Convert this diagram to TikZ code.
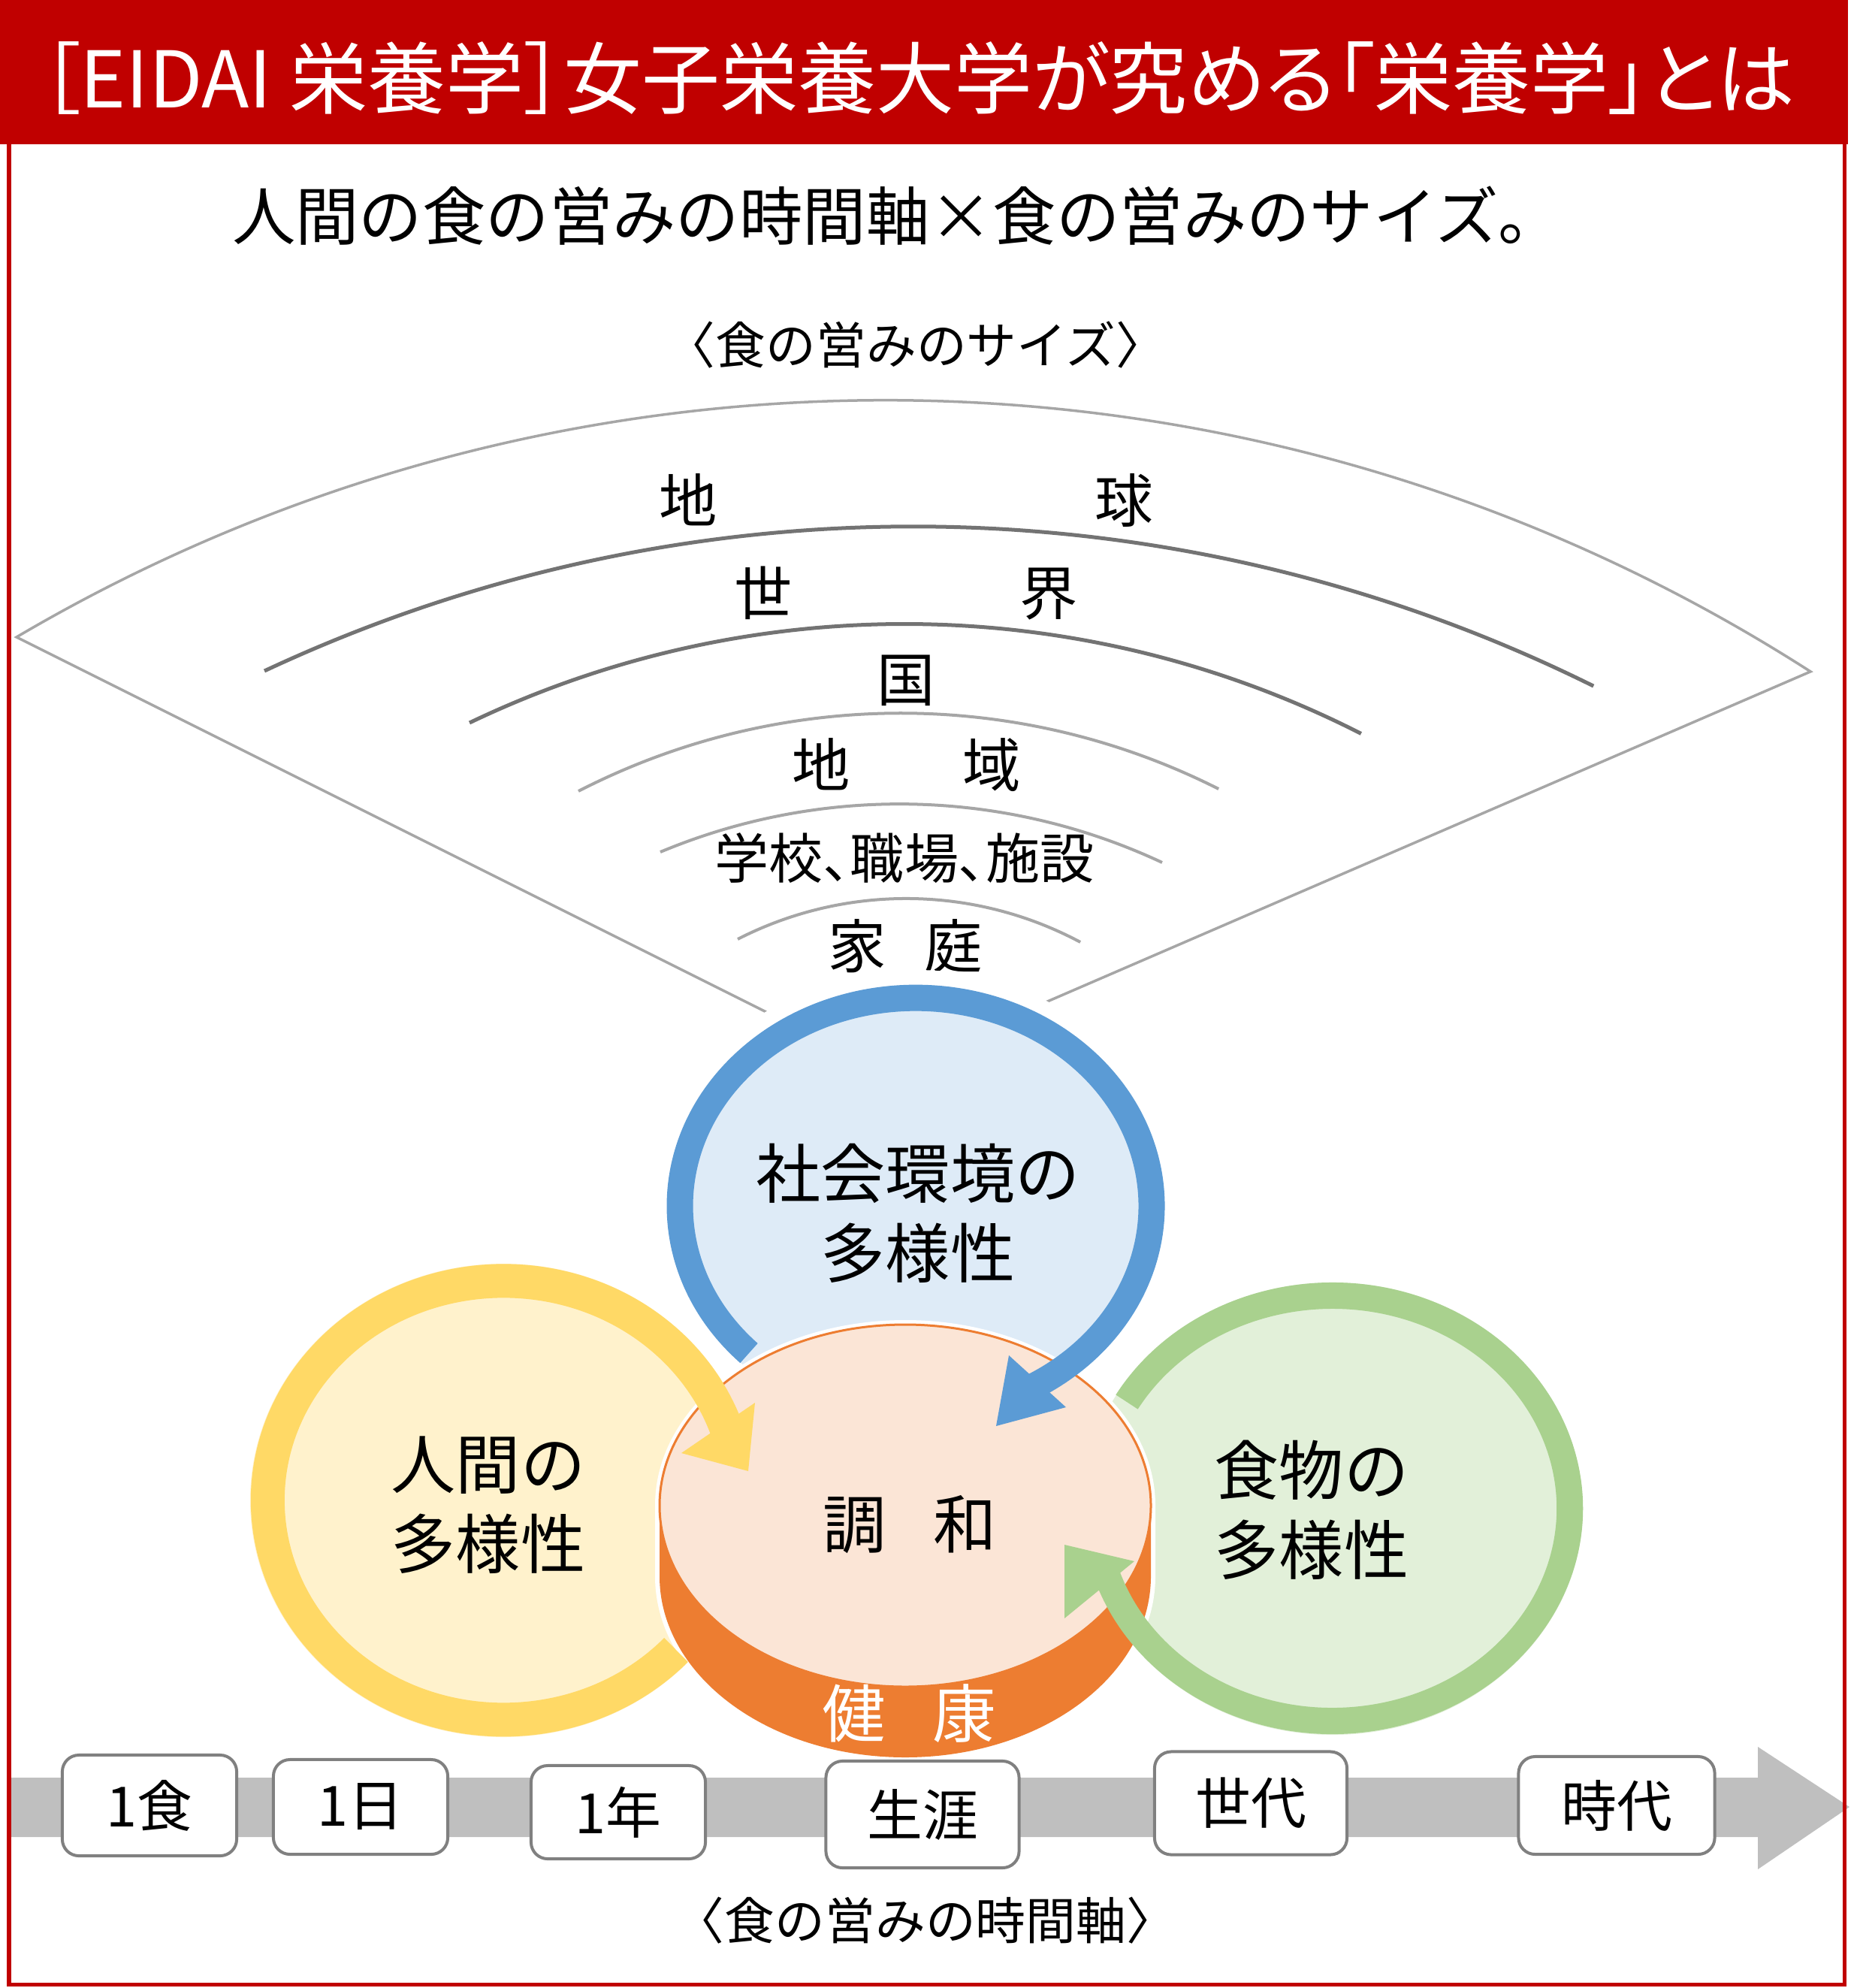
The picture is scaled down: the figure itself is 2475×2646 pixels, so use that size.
\documentclass[tikz,border=0pt]{standalone}
\usepackage{fontspec}
\setmainfont{Noto Sans CJK JP}
\newfontfamily\jpprop[RawFeature=+palt]{Noto Sans CJK JP}
\usetikzlibrary{calc,positioning}

\definecolor{eidaired}{HTML}{C00000}
\definecolor{socblue}{HTML}{5B9BD5}
\definecolor{socfill}{HTML}{DEEBF7}
\definecolor{humyel}{HTML}{FFD966}
\definecolor{humfill}{HTML}{FFF2CC}
\definecolor{foodgrn}{HTML}{A9D18E}
\definecolor{foodfill}{HTML}{E2F0D9}
\definecolor{diskorg}{HTML}{ED7D31}
\definecolor{diskfill}{HTML}{FBE5D6}
\definecolor{bandgray}{HTML}{BFBFBF}
\definecolor{boxgray}{HTML}{808080}

\tikzset{
  fanline/.style={draw=black!35, line width=0.035cm},
  fandark/.style={draw=black!55, line width=0.05cm},
  fanlight/.style={draw=black!35, line width=0.04cm},
  halo/.style={preaction={draw=white, line width=0.4cm}},
  fanlabel/.style={font=\fontsize{22}{26}\selectfont, inner sep=0pt},
  ringlabel/.style={font=\fontsize{24.5}{30}\selectfont, align=center, inner sep=0pt},
  timebox/.style={draw=boxgray, fill=white, line width=0.04cm, rounded corners=0.22cm,
    inner sep=0pt, font=\fontsize{21}{25}\selectfont},
}

\begin{document}
\begin{tikzpicture}[x=0.01cm,y=-0.01cm]
\useasboundingbox (0,0) rectangle (2475,2646);

% title
\fill[eidaired] (0,0) rectangle (2460,192);
\node[text=white, font=\jpprop\fontsize{29.6}{34}\selectfont] (title) at (1222,104) {［EIDAI 栄養学］女子栄養大学が究める「栄養学」とは};
\node[font=\fontsize{24}{28}\selectfont] (sub) at (1194,287) {人間の食の営みの時間軸×食の営みのサイズ。};
\node[font=\fontsize{19}{23}\selectfont] (sizelbl) at (1219,459) {〈食の営みのサイズ〉};

% fan of sizes
\coordinate (fanL) at (22,848);
\draw[fanline] (1020,1347) -- (fanL) arc[start angle=-120.5, end angle=-57.3, radius=2279.3] -- (1378,1340);
\draw[fandark] (352,893) arc[start angle=-115.1, end angle=-63.6, radius=2036.4];
\draw[fandark] (625,962) arc[start angle=-115.6, end angle=-63.0, radius=1339.5];
\draw[fanlight] (770,1053) arc[start angle=-117.2, end angle=-63.2, radius=938.5];
\draw[fanlight] (879,1134) arc[start angle=-112.7, end angle=-64.9, radius=824.6];
\draw[fanlight] (982,1250) arc[start angle=-117.1, end angle=-61.9, radius=492.3];

\node[fanlabel] (earth) at (1206,666) {地\hspace{5.03cm}球};
\node[fanlabel] (world) at (1206,790) {世\hspace{3.03cm}界};
\node[fanlabel] (nation) at (1206,906) {国};
\node[fanlabel] (region) at (1207,1018) {地\hspace{1.5cm}域};
\node[fanlabel, font=\jpprop\fontsize{20.5}{24}\selectfont] (school) at (1204,1142) {学校、職場、施設};
\node[fanlabel] (home) at (1205,1259) {家\hspace{0.51cm}庭};

% circles
\path[fill=socfill, halo] (1219,1605) ellipse[x radius=331, y radius=294];
\path[fill=humfill, halo] (670,1997) ellipse[x radius=337, y radius=315];
\path[fill=foodfill, halo] (1774,2008) ellipse[x radius=333, y radius=301];

% disc
\path[fill=diskorg, preaction={draw=white, line width=0.12cm}]
  (878,2004) arc[start angle=180, end angle=360, x radius=327, y radius=241]
  -- (1532,2098) arc[start angle=0, end angle=180, x radius=327, y radius=241] -- cycle;
\filldraw[draw=diskorg, fill=diskfill, line width=0.03cm] (1205,2004) ellipse[x radius=327, y radius=241];

% rings
\draw[socblue, line width=0.35cm] (997,1801) arc[start angle=135, end angle=420, x radius=314, y radius=277];
\fill[socblue] (1343,1804) -- (1419,1873) -- (1326,1898) -- cycle;
\draw[humyel, line width=0.45cm] (900,2196) arc[start angle=43, end angle=343, x radius=314, y radius=292];
\fill[humyel] (907,1934) -- (1005,1867) -- (996,1958) -- cycle;
\draw[foodgrn, line width=0.35cm] (1500,1866) arc[start angle=210, end angle=523, x radius=316, y radius=283];
\fill[foodgrn] (1417,2154) -- (1510,2078) -- (1417,2056) -- cycle;

\node[ringlabel] (soc) at (1222,1615) {社会環境の\\多様性};
\node[ringlabel] (hum) at (650,2003) {人間の\\多様性};
\node[ringlabel] (food) at (1746,2010) {食物の\\多様性};
\node[font=\fontsize{24}{28}\selectfont] (harm) at (1211,2029) {調\hspace{0.62cm}和};
\node[font=\fontsize{24}{28}\selectfont, text=white] (health) at (1210,2281) {健\hspace{0.62cm}康};

% time axis
\fill[bandgray] (13,2366) -- (2340,2366) -- (2340,2325) -- (2462,2405) -- (2340,2488) -- (2340,2445) -- (13,2445) -- cycle;
\node[timebox, minimum width=2.32cm, minimum height=1.34cm] (meal) at (199,2403) {1食};
\node[timebox, minimum width=2.32cm, minimum height=1.26cm] (day) at (480,2405) {1日};
\node[timebox, minimum width=2.32cm, minimum height=1.24cm] (year) at (823,2412) {1年};
\node[timebox, minimum width=2.57cm, minimum height=1.42cm] (life) at (1228,2415) {生涯};
\node[timebox, minimum width=2.56cm, minimum height=1.37cm] (gen) at (1665,2400) {世代};
\node[timebox, minimum width=2.61cm, minimum height=1.30cm] (era) at (2152,2403) {時代};
\node[font=\fontsize{19}{23}\selectfont] (timelbl) at (1232,2556) {〈食の営みの時間軸〉};

% frame
\draw[eidaired, line width=0.05cm] (12,192) -- (12,2641) -- (2455,2641) -- (2455,192);
\end{tikzpicture}
\end{document}
